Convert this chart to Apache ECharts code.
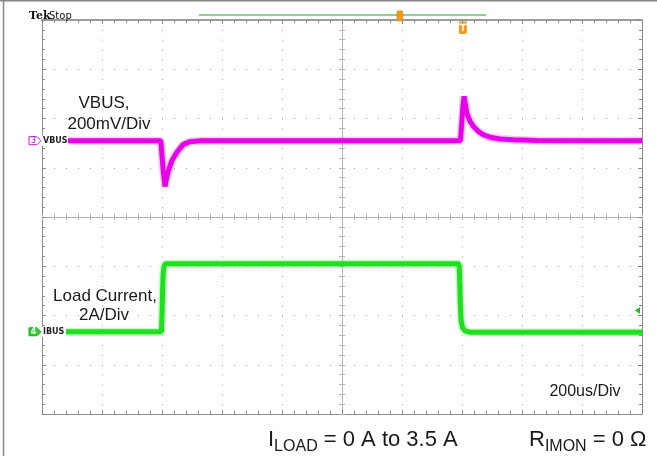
<!DOCTYPE html>
<html><head><meta charset="utf-8">
<script src="https://cdn.jsdelivr.net/npm/echarts@6/dist/echarts.min.js"></script>
<style>html,body{margin:0;padding:0;background:#fff;overflow:hidden}#c{width:657px;height:456px}</style>
</head><body><div id="c"></div>
<script>
// Time axis in microseconds (200 us/div, 10 divisions); amplitude in screen divisions (8 divisions)
const vbusTime = [0, 396, 400, 404, 410, 415, 421, 432, 449, 470, 493, 530, 600, 1395, 1399, 1403, 1407, 1416, 1427, 1438, 1454, 1471, 1493, 1527, 1570, 1650, 2000];
const vbusDiv  = [1.55, 1.55, 1.25, 0.95, 0.62, 0.78, 0.93, 1.13, 1.31, 1.47, 1.53, 1.55, 1.55, 1.55, 1.9, 2.25, 2.45, 2.11, 1.94, 1.84, 1.74, 1.67, 1.62, 1.585, 1.57, 1.555, 1.55];
const ibusTime = [0, 398, 400, 402, 404, 407, 411, 1390, 1392, 1394, 1397, 1402, 1410, 1425, 2000];
const ibusDiv  = [-2.33, -2.33, -2.0, -1.5, -1.15, -1.0, -0.95, -0.95, -1.15, -1.7, -2.1, -2.25, -2.31, -2.34, -2.34];
const xTicks = [0, 200, 400, 600, 800, 1000, 1200, 1400, 1600, 1800, 2000];
const yTicks = [-4, -3, -2, -1, 0, 1, 2, 3, 4];
const triggerTime = 1403;
const recordMarkTime = 1193;
const triggerLevelDiv = -1.9;

const chart = echarts.init(document.getElementById('c'), null, {renderer: 'canvas'});
const frame = '#8a8a8a';
const dot = '#a0a0a0';
const center = '#b4b4b4';
function ax(ticks, opt) {
  return Object.assign({
    type: 'value', min: ticks[0], max: ticks[ticks.length - 1], interval: ticks[1] - ticks[0],
    axisLabel: {show: false},
    axisLine: {show: true, onZero: false, lineStyle: {color: frame, width: 1}},
    axisTick: {show: true, inside: true, length: 4, lineStyle: {color: frame}},
    minorTick: {show: true, splitNumber: 5, length: 3, lineStyle: {color: frame}},
    splitLine: {show: false}
  }, opt);
}
const cLine = {show: true, onZero: false, lineStyle: {color: center, width: 1}};
const cMinor = {show: true, splitNumber: 5, length: 3, lineStyle: {color: center}};
const option = {
  animation: false,
  backgroundColor: '#fff',
  grid: {left: 42, top: 20, width: 600, height: 394, containLabel: false},
  xAxis: [
    ax(xTicks, {position: 'bottom', splitLine: {show: true, lineStyle: {color: dot, width: 1, type: [1, 8.85]}}}),
    ax(xTicks, {position: 'top', axisLine: {show: true, onZero: false, lineStyle: {color: '#9a9a9a', width: 2}}}),
    ax(xTicks, {position: 'bottom', offset: -197, axisLine: cLine, axisTick: {show: true, inside: true, length: 3, lineStyle: {color: center}}, minorTick: cMinor}),
    ax(xTicks, {position: 'bottom', offset: -197, axisLine: cLine, axisTick: {show: true, inside: false, length: 3, lineStyle: {color: center}}, minorTick: cMinor})
  ],
  yAxis: [
    ax(yTicks, {position: 'left', splitLine: {show: true, lineStyle: {color: dot, width: 1, type: [1, 11]}}}),
    ax(yTicks, {position: 'right'}),
    ax(yTicks, {position: 'left', offset: -300, axisLine: cLine, axisTick: {show: true, inside: true, length: 3, lineStyle: {color: center}}, minorTick: cMinor}),
    ax(yTicks, {position: 'left', offset: -300, axisLine: cLine, axisTick: {show: true, inside: false, length: 3, lineStyle: {color: center}}, minorTick: cMinor})
  ],
  series: [
    {name: 'VBUS halo', type: 'line', xAxisIndex: 0, yAxisIndex: 0, showSymbol: false, silent: true, z: 3,
      data: vbusTime.map((t, i) => [t, vbusDiv[i]]), lineStyle: {color: '#f040f0', width: 8, opacity: 0.3}},
    {name: 'VBUS', type: 'line', xAxisIndex: 0, yAxisIndex: 0, showSymbol: false, z: 4,
      data: vbusTime.map((t, i) => [t, vbusDiv[i]]), lineStyle: {color: '#e800e8', width: 5}},
    {name: 'IBUS halo', type: 'line', xAxisIndex: 0, yAxisIndex: 0, showSymbol: false, silent: true, z: 3,
      data: ibusTime.map((t, i) => [t, ibusDiv[i]]), lineStyle: {color: '#40f040', width: 8, opacity: 0.3}},
    {name: 'IBUS', type: 'line', xAxisIndex: 0, yAxisIndex: 0, showSymbol: false, z: 4,
      data: ibusTime.map((t, i) => [t, ibusDiv[i]]), lineStyle: {color: '#1ee01e', width: 5}}
  ]
};
chart.setOption(option);

const px = (t, v) => chart.convertToPixel({xAxisIndex: 0, yAxisIndex: 0}, [t, v]);
const yV = px(0, vbusDiv[0])[1];
const yI = px(0, ibusDiv[0])[1];
const xT = px(triggerTime, 0)[0];
const xR = px(recordMarkTime, 0)[0];
const yTL = px(0, triggerLevelDiv)[1];

const ctx = document.createElement('canvas').getContext('2d');
function tw(s, font) { ctx.font = font; return ctx.measureText(s).width; }
const FF = '"Liberation Sans", Arial, sans-serif';
function sub(x, y, parts) {
  const els = [];
  let cx = x;
  parts.forEach(p => {
    const font = p.size + 'px ' + FF;
    els.push({type: 'text', x: cx, y: y + (p.dy || 0), z: 100,
      style: {text: p.t, font: font, fill: '#1a1a1a', textVerticalAlign: 'bottom'}});
    cx += tw(p.t, font) + (p.gap || 0);
  });
  return els;
}
const annot = (t, x, y, size, align) => ({type: 'text', x: x, y: y, z: 100,
  style: {text: t, font: size + 'px ' + FF, fill: '#1a1a1a', textAlign: align || 'center', textVerticalAlign: 'middle'}});

const g = [
  {type: 'line', z: 100, shape: {x1: 0, y1: 0.5, x2: 657, y2: 0.5}, style: {stroke: '#888', lineWidth: 2}},
  {type: 'line', z: 100, shape: {x1: 3.5, y1: 0, x2: 3.5, y2: 456}, style: {stroke: '#888', lineWidth: 1.5}},
  {type: 'text', x: 29, y: 11, z: 100, style: {text: 'Tek', font: 'bold 11px "DejaVu Serif", serif', fill: '#111'}},
  {type: 'text', x: 49, y: 11, z: 100, style: {text: 'Stop', font: '10px "DejaVu Sans", sans-serif', fill: '#111'}},
  {type: 'line', z: 100, shape: {x1: 199, y1: 15, x2: 486, y2: 15}, style: {stroke: '#6abf6a', lineWidth: 1.5}},
  {type: 'rect', z: 101, shape: {x: xR - 3, y: 12, width: 6, height: 9, r: 1}, style: {fill: '#f39a1e', stroke: '#c97a10', lineWidth: 0.5}},
  {type: 'rect', z: 101, shape: {x: xR - 3, y: 10.5, width: 6, height: 1.5}, style: {fill: '#f39a1e'}},
  {type: 'rect', z: 101, shape: {x: xT - 4, y: 21.5, width: 8, height: 2}, style: {fill: '#f39a1e'}},
  {type: 'rect', z: 101, shape: {x: xT - 4, y: 24, width: 8, height: 10, r: 2}, style: {fill: '#f39a1e'}},
  {type: 'text', x: xT, y: 29, z: 102, style: {text: 'T', font: 'bold 8px "DejaVu Sans", sans-serif', fill: '#fff', textAlign: 'center', textVerticalAlign: 'middle'}},
  // channel 3 marker
  {type: 'polygon', z: 101, shape: {points: [[29, yV - 4], [37, yV - 4], [41, yV], [37, yV + 4], [29, yV + 4]]}, style: {fill: '#fff', stroke: '#d020d0', lineWidth: 1}},
  {type: 'text', x: 33.5, y: yV + 0.5, z: 102, style: {text: '3', font: '8px "DejaVu Sans", sans-serif', fill: '#c010c0', textAlign: 'center', textVerticalAlign: 'middle'}},
  {type: 'rect', z: 101, shape: {x: 42, y: yV - 5, width: 26, height: 10}, style: {fill: '#fff'}},
  {type: 'text', x: 43, y: yV + 0.5, z: 102, style: {text: 'VBUS', font: 'bold 8px "DejaVu Sans", sans-serif', fill: '#222', textVerticalAlign: 'middle'}},
  // channel 4 marker
  {type: 'polygon', z: 101, shape: {points: [[29, yI - 4], [37, yI - 4], [41, yI], [37, yI + 4], [29, yI + 4]]}, style: {fill: '#33cc33', stroke: '#22aa22', lineWidth: 1}},
  {type: 'text', x: 33.5, y: yI + 0.5, z: 102, style: {text: '4', font: 'bold 8px "DejaVu Sans", sans-serif', fill: '#e8ffe8', textAlign: 'center', textVerticalAlign: 'middle'}},
  {type: 'rect', z: 101, shape: {x: 42, y: yI - 5, width: 24, height: 10}, style: {fill: '#fff'}},
  {type: 'text', x: 43, y: yI + 0.5, z: 102, style: {text: 'IBUS', font: 'bold 8px "DejaVu Sans", sans-serif', fill: '#222', textVerticalAlign: 'middle'}},
  // trigger level
  {type: 'polygon', z: 101, shape: {points: [[635, yTL], [640, yTL - 3.5], [640, yTL + 3.5]]}, style: {fill: '#22bb22'}},
  annot('VBUS,', 104, 103, 17),
  annot('200mV/Div', 109, 124, 17),
  annot('Load Current,', 105, 296, 17),
  annot('2A/Div', 104, 315, 17),
  annot('200us/Div', 585, 392, 16)
].concat(
  sub(268, 451, [{t: 'I', size: 22}, {t: 'LOAD', size: 16, dy: 4}, {t: ' = 0 A to 3.5 A', size: 22}]),
  sub(529, 451, [{t: 'R', size: 22}, {t: 'IMON', size: 16, dy: 4}, {t: ' = 0 Ω', size: 22}])
);
chart.setOption({graphic: {elements: g}});
</script></body></html>
